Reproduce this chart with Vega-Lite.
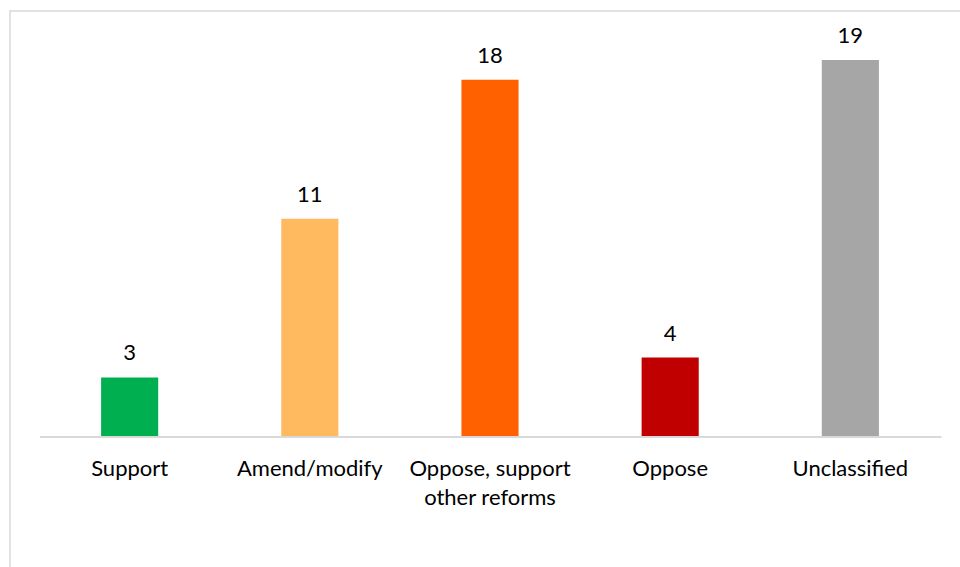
{
  "$schema": "https://vega.github.io/schema/vega-lite/v6.json",
  "width": 960,
  "height": 570,
  "autosize": {"type": "none"},
  "padding": {"left": 10, "top": 11, "right": 0, "bottom": 0},
  "background": "white",
  "config": {
    "view": {"stroke": "#d9d9d9", "strokeWidth": 1.5},
    "font": "Lato"
  },
  "data": {
    "values": [
      {"category": "Support", "value": 3, "color": "#00b050"},
      {"category": "Amend/modify", "value": 11, "color": "#ffb95e"},
      {"category": "Oppose, support other reforms", "value": 18, "color": "#ff6000"},
      {"category": "Oppose", "value": 4, "color": "#c00000"},
      {"category": "Unclassified", "value": 19, "color": "#a6a6a6"}
    ]
  },
  "encoding": {
    "x": {
      "field": "category",
      "type": "nominal",
      "sort": null,
      "scale": {"paddingInner": 0.683, "paddingOuter": 0.5056, "align": 0.5},
      "axis": {
        "title": null,
        "orient": "bottom",
        "offset": -144,
        "labelAngle": 0,
        "ticks": false,
        "domain": false,
        "labelFont": "Lato",
        "labelFontSize": 22,
        "labelColor": "#000000",
        "labelBaseline": "alphabetic",
        "labelPadding": 38,
        "labelLineHeight": 29,
        "labelLimit": 300,
        "labelExpr": "datum.label == 'Oppose, support other reforms' ? ['Oppose, support', 'other reforms'] : datum.label"
      }
    }
  },
  "layer": [
    {
      "mark": {"type": "bar"},
      "encoding": {
        "y": {
          "field": "value",
          "type": "quantitative",
          "scale": {"domain": [-7.26, 21.47], "nice": false, "zero": false},
          "axis": null
        },
        "y2": {"datum": 0},
        "color": {"field": "color", "type": "nominal", "scale": null, "legend": null}
      }
    },
    {
      "mark": {"type": "rule", "color": "#d9d9d9", "strokeWidth": 1.5},
      "encoding": {
        "x": {"datum": "Support", "bandPosition": -1.07},
        "x2": {"datum": "Unclassified", "bandPosition": 2.09},
        "y": {"datum": 0}
      }
    },
    {
      "mark": {"type": "text", "baseline": "alphabetic", "dy": -17, "fontSize": 22, "font": "Lato", "color": "#000000"},
      "encoding": {
        "y": {"field": "value", "type": "quantitative"},
        "text": {"field": "value", "type": "quantitative"}
      }
    }
  ]
}
